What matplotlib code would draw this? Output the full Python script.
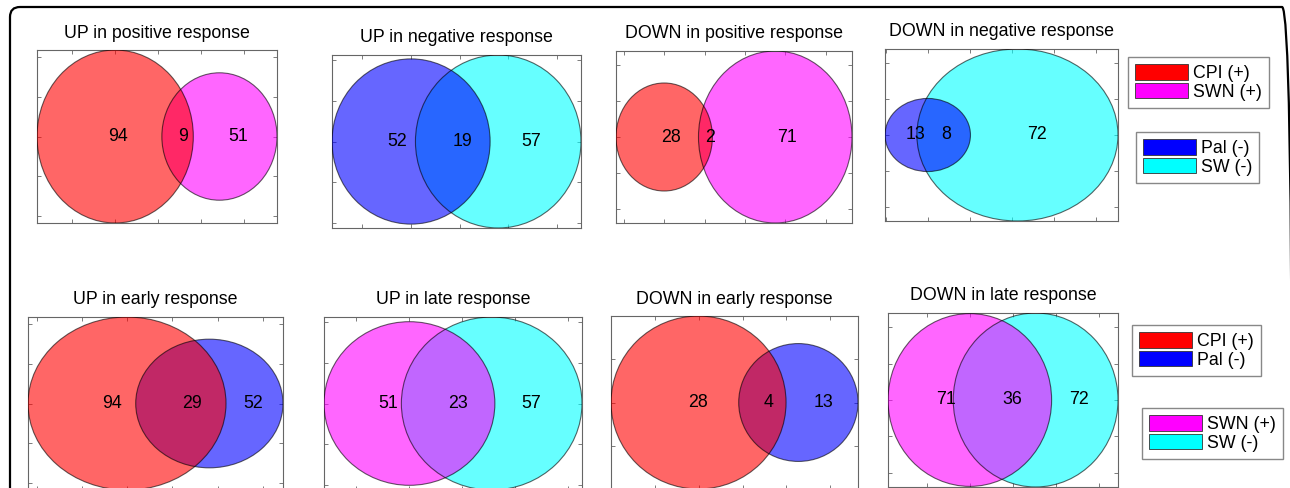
import numpy as np
import matplotlib
matplotlib.use("Agg")
import matplotlib.pyplot as plt
from matplotlib.patches import Circle, Patch, FancyBboxPatch
from matplotlib.ticker import MaxNLocator

plt.rcParams['font.family'] = ['Liberation Sans', 'DejaVu Sans']

# ---------------- data ----------------
titles = ["UP in positive response", "UP in negative response",
          "DOWN in positive response", "DOWN in negative response",
          "UP in early response", "UP in late response",
          "DOWN in early response", "DOWN in late response"]
left_counts = [94, 52, 28, 13, 94, 51, 28, 71]
overlap_counts = [9, 19, 2, 8, 29, 23, 4, 36]
right_counts = [51, 57, 71, 72, 52, 57, 13, 72]
left_sets = ["CPI", "Pal", "CPI", "Pal", "CPI", "SWN", "CPI", "SWN"]
right_sets = ["SWN", "SW", "SWN", "SW", "Pal", "SW", "Pal", "SW"]

legend_sets = [["CPI", "SWN"], ["Pal", "SW"], ["CPI", "Pal"], ["SWN", "SW"]]
set_labels = {"CPI": "CPI (+)", "SWN": "SWN (+)", "Pal": "Pal (-)", "SW": "SW (-)"}
set_colors = {"CPI": "#ff0000", "SWN": "#ff00ff", "Pal": "#0000ff", "SW": "#00ffff"}

# ---------------- layout (pixels) ----------------
W, H = 1290, 488
axes_px = [(37, 50, 277, 223), (332, 55, 581, 228), (616, 51, 852, 223), (885, 49, 1118, 221),
           (28, 317, 283, 490), (324, 317, 582, 490), (611, 316, 858, 489), (888, 313, 1118, 487)]
legend_px = [(1128, 57), (1136, 132), (1132, 325), (1142, 408)]
FS = 12.8


def lens_area(d, r1, r2):
    if d >= r1 + r2:
        return 0.0
    if d <= abs(r1 - r2):
        return np.pi * min(r1, r2) ** 2
    a1 = r1 ** 2 * np.arccos((d ** 2 + r1 ** 2 - r2 ** 2) / (2 * d * r1))
    a2 = r2 ** 2 * np.arccos((d ** 2 + r2 ** 2 - r1 ** 2) / (2 * d * r2))
    a3 = 0.5 * np.sqrt((-d + r1 + r2) * (d + r1 - r2) * (d - r1 + r2) * (d + r1 + r2))
    return a1 + a2 - a3


def solve_distance(r1, r2, area):
    lo, hi = abs(r1 - r2), r1 + r2
    for _ in range(200):
        mid = 0.5 * (lo + hi)
        if lens_area(mid, r1, r2) > area:
            lo = mid
        else:
            hi = mid
    return 0.5 * (lo + hi)


fig = plt.figure(figsize=(W / 100, H / 100), dpi=100)

# outer rounded frame
frame = FancyBboxPatch((0.10, -0.3), 12.82, 4.81 + 0.3,
                       boxstyle="round,pad=0,rounding_size=0.1",
                       transform=fig.dpi_scale_trans, facecolor="none",
                       edgecolor="black", linewidth=1.6)
fig.patches.append(frame)

for i in range(8):
    x0, y0, x1, y1 = axes_px[i]
    ax = fig.add_axes([x0 / W, 1 - y1 / H, (x1 - x0) / W, (y1 - y0) / H])
    a, ab, b = left_counts[i], overlap_counts[i], right_counts[i]
    ra, rb = np.sqrt(a / np.pi), np.sqrt(b / np.pi)
    d = solve_distance(ra, rb, ab)
    ca = set_colors[left_sets[i]]
    cb = set_colors[right_sets[i]]
    ax.add_patch(Circle((d, 0), rb, facecolor=cb, alpha=0.6, edgecolor="none", zorder=2))
    ax.add_patch(Circle((0, 0), ra, facecolor=ca, alpha=0.6, edgecolor="none", zorder=3))
    ax.add_patch(Circle((d, 0), rb, facecolor="none", edgecolor=(0, 0, 0, 0.6), linewidth=0.8, zorder=4))
    ax.add_patch(Circle((0, 0), ra, facecolor="none", edgecolor=(0, 0, 0, 0.6), linewidth=0.8, zorder=4))
    xmin, xmax = min(-ra, d - rb), max(ra, d + rb)
    rmax = max(ra, rb)
    ax.set_xlim(xmin, xmax)
    ax.set_ylim(-rmax, rmax)

    # region centroids (text left-aligned at centroid)
    gx = np.linspace(xmin, xmax, 900)
    gy = np.linspace(-rmax, rmax, 900)
    X, Y = np.meshgrid(gx, gy)
    inA = X ** 2 + Y ** 2 < ra ** 2
    inB = (X - d) ** 2 + Y ** 2 < rb ** 2
    for mask, val in [(inA & ~inB, a), (inA & inB, ab), (inB & ~inA, b)]:
        if mask.any():
            cx, cy = X[mask].mean(), Y[mask].mean()
            ax.text(cx, cy, str(val), ha="left", va="center", fontsize=FS, zorder=6)

    ax.set_title(titles[i], fontsize=FS, pad=9)
    ax.xaxis.set_major_locator(MaxNLocator(6))
    ax.yaxis.set_major_locator(MaxNLocator(5))
    ax.tick_params(direction="in", length=3, top=True, right=True,
                   labelbottom=False, labelleft=False, color="#666666", width=0.6)
    for sp in ax.spines.values():
        sp.set_color("#666666")
        sp.set_linewidth(0.8)

for j in range(4):
    lx, ly = legend_px[j]
    handles = [Patch(facecolor=set_colors[s], edgecolor="#333333", linewidth=0.6) for s in legend_sets[j]]
    labels = [set_labels[s] for s in legend_sets[j]]
    leg = fig.legend(handles, labels, loc="upper left", bbox_to_anchor=(lx / W, 1 - ly / H),
                     borderaxespad=0, fontsize=FS, handlelength=3.0, handleheight=1.0,
                     handletextpad=0.25, labelspacing=0.02, borderpad=0.4,
                     fancybox=False, framealpha=1, edgecolor="#888888")
    leg.get_frame().set_linewidth(1.0)

fig.savefig("out.png", dpi=100)
